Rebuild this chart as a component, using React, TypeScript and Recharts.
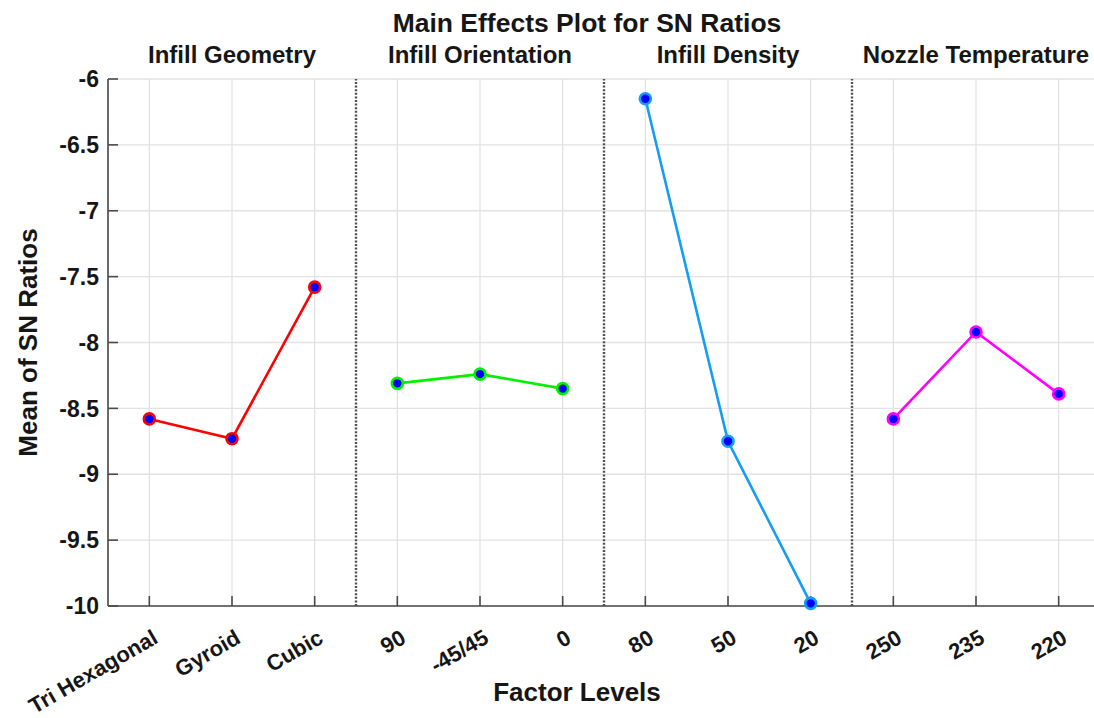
import { LineChart, Line, XAxis, YAxis, CartesianGrid, ReferenceLine } from 'recharts'

const FONT = '"Liberation Sans", Arial, Helvetica, sans-serif'
const INK = '#161616'

// factor levels, left to right
const levels = ['Tri Hexagonal', 'Gyroid', 'Cubic', '90', '-45/45', '0', '80', '50', '20', '250', '235', '220']
const factors = ['Infill Geometry', 'Infill Orientation', 'Infill Density', 'Nozzle Temperature']

// mean SN ratio per level
const geometrySN = [-8.58, -8.73, -7.58]
const orientationSN = [-8.31, -8.24, -8.35]
const densitySN = [-6.15, -8.75, -9.98]
const temperatureSN = [-8.58, -7.92, -8.39]

const yTicks = [-10, -9.5, -9, -8.5, -8, -7.5, -7, -6.5, -6]
const levelTicks = levels.map((_, i) => i)
const dividers = [2.5, 5.5, 8.5]

const series = [
  { name: 'Infill Geometry', values: geometrySN, color: '#FF0000' },
  { name: 'Infill Orientation', values: orientationSN, color: '#00F000' },
  { name: 'Infill Density', values: densitySN, color: '#149DF4' },
  { name: 'Nozzle Temperature', values: temperatureSN, color: '#FF00FF' },
]

function LevelTick({ x, y, payload }: any) {
  const ax = x + 10
  const ay = y + 36
  return (
    <text
      x={ax}
      y={ay}
      textAnchor="end"
      transform={`rotate(-30 ${ax} ${ay})`}
      fontSize={22}
      fontWeight="bold"
      fontFamily={FONT}
      fill={INK}
    >
      {levels[payload.value]}
    </text>
  )
}

export default function App() {
  return (
    <div style={{ position: 'absolute', left: 0, top: 0, width: 1094, height: 718, overflow: 'hidden', background: '#fff' }}>
      <LineChart width={1110} height={718} margin={{ top: 79, right: 10, bottom: 0, left: 0 }}>
        <CartesianGrid stroke="#e2e2e2" strokeWidth={1.3} />
        <XAxis
          type="number"
          dataKey="x"
          domain={[-0.5, 11.5]}
          ticks={levelTicks}
          interval={0}
          height={112}
          tickSize={-10}
          tickMargin={10}
          axisLine={{ stroke: '#4a4a4a', strokeWidth: 1.6 }}
          tickLine={{ stroke: '#4a4a4a', strokeWidth: 1.6 }}
          tick={<LevelTick />}
          label={{
            content: ({ viewBox }: any) => (
              <text
                x={viewBox.x + viewBox.width / 2 - 27}
                y={viewBox.y + viewBox.height - 17}
                textAnchor="middle"
                fontSize={26}
                fontWeight="bold"
                fontFamily={FONT}
                fill={INK}
              >
                Factor Levels
              </text>
            ),
          }}
        />
        <YAxis
          type="number"
          domain={[-10, -6]}
          ticks={yTicks}
          interval={0}
          width={108}
          tickSize={-10}
          tickMargin={19}
          axisLine={{ stroke: '#4a4a4a', strokeWidth: 1.6 }}
          tickLine={{ stroke: '#4a4a4a', strokeWidth: 1.6 }}
          tick={{ fontSize: 23, fontWeight: 'bold', fontFamily: FONT, fill: INK }}
          label={{
            content: ({ viewBox }: any) => {
              const lx = 37
              const ly = viewBox.y + viewBox.height / 2
              return (
                <text
                  x={lx}
                  y={ly}
                  textAnchor="middle"
                  transform={`rotate(-90 ${lx} ${ly})`}
                  fontSize={26}
                  fontWeight="bold"
                  fontFamily={FONT}
                  fill={INK}
                >
                  Mean of SN Ratios
                </text>
              )
            },
          }}
        />
        {dividers.map((d) => (
          <ReferenceLine key={d} x={d} stroke="#505050" strokeWidth={2.4} strokeDasharray="2 1.6" />
        ))}
        {factors.map((f, k) => (
          <ReferenceLine
            key={f}
            x={k * 3 + 1}
            stroke="none"
            label={{
              content: ({ viewBox }: any) => (
                <text
                  x={viewBox.x}
                  y={viewBox.y - 16}
                  textAnchor="middle"
                  fontSize={24}
                  fontWeight="bold"
                  fontFamily={FONT}
                  fill={INK}
                >
                  {f}
                </text>
              ),
            }}
          />
        ))}
        {series.map((s, k) => (
          <Line
            key={s.name}
            name={s.name}
            data={s.values.map((v, i) => ({ x: k * 3 + i, y: v }))}
            dataKey="y"
            stroke={s.color}
            strokeWidth={2.6}
            dot={{ r: 5.5, fill: '#0000FF', stroke: s.color, strokeWidth: 2.6 }}
            activeDot={false}
            isAnimationActive={false}
          />
        ))}
      </LineChart>
      <div
        style={{
          position: 'absolute',
          left: 0,
          width: 1174,
          top: 8,
          textAlign: 'center',
          fontFamily: FONT,
          fontWeight: 'bold',
          fontSize: 26.5,
          lineHeight: '30px',
          color: INK,
        }}
      >
        Main Effects Plot for SN Ratios
      </div>
    </div>
  )
}
